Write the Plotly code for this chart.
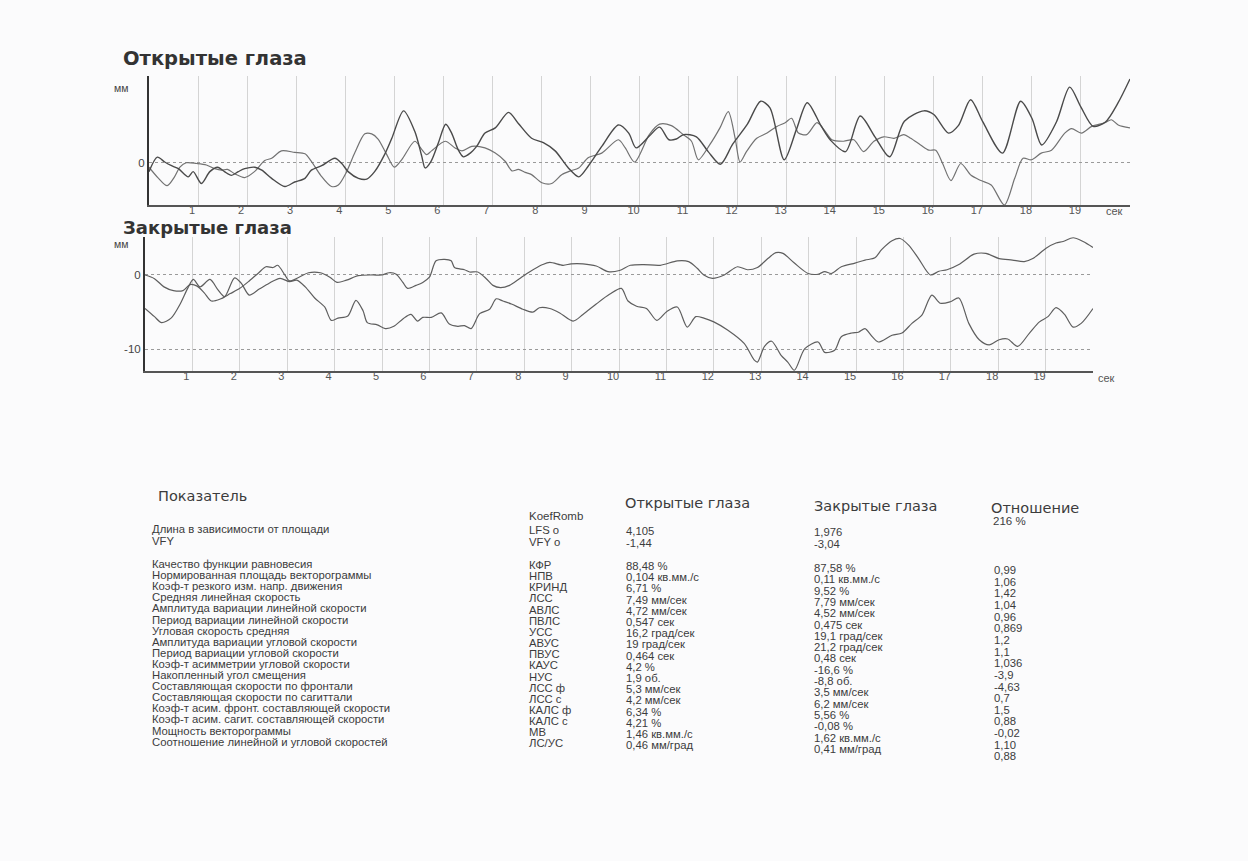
import plotly.graph_objects as go

W, H = 1248, 861

# ---------------- data: "Открытые глаза" (open eyes), mm vs seconds ----------------
open_t1 = [0, 0.17, 0.32, 0.46, 0.6, 0.8, 0.9, 1.07, 1.24, 1.4, 1.54, 1.68, 1.82, 1.95, 2.16, 2.3, 2.5,
           2.77, 2.97, 3.18, 3.31, 3.52, 3.79, 3.93, 4.06, 4.27, 4.44, 4.6, 4.81, 4.95, 5.19, 5.42,
           5.56, 5.63, 5.75, 5.9, 6.05, 6.17, 6.3, 6.41, 6.55, 6.68, 6.85, 7.06, 7.33, 7.53, 7.8,
           8.04, 8.28, 8.55, 8.76, 8.96, 9.23, 9.57, 9.78, 9.93, 10.2, 10.41, 10.6, 10.75, 10.9,
           11.16, 11.4, 11.65, 11.9, 12.2, 12.47, 12.66, 12.95, 13.2, 13.42, 13.7, 13.9, 14.2,
           14.5, 14.8, 15.1, 15.4, 15.8, 16.0, 16.3, 16.5, 16.75, 17.0, 17.4, 17.77, 18.0, 18.2,
           18.5, 18.77, 19.0, 19.25, 19.5, 19.75, 20.0]
open_v1 = [-1.2, 0.75, 0.1, -0.4, -0.8, -1.9, -1.2, -2.8, -1.2, -0.6, -1.2, -1.7, -1.2, -0.8, -0.6, -1.0, -2.1,
           -3.2, -2.6, -2.1, -1.0, -0.4, 0.6, -0.1, -1.2, -2.1, -2.2, -1.2, 1.2, 3.3, 7.0, 4.2,
           0.9, -0.7, 0.2, 2.7, 5.2, 4.0, 1.8, 0.8, 1.3, 2.2, 4.0, 4.7, 6.8, 5.3, 3.3,
           2.7, 1.6, -0.7, -1.9, -0.4, 2.2, 5.1, 4.0, 2.0, 3.6, 4.8, 3.1, 3.2, 3.8,
           3.5, 1.5, -0.2, 2.5, 5.2, 8.3, 7.4, 0.4, 4.5, 8.1, 5.0, 3.0, 1.5,
           6.3, 3.5, 0.8, 5.6, 7.0, 6.5, 4.0, 5.0, 8.5, 5.5, 1.3, 8.3, 6.0, 2.4,
           5.5, 10.2, 7.5, 4.9, 5.5, 8.0, 11.3]

open_t2 = [0, 0.18, 0.37, 0.52, 0.63, 0.76, 0.97, 1.17, 1.34, 1.48, 1.6, 1.75, 1.95, 2.15, 2.36, 2.5, 2.7,
           2.97, 3.18, 3.3, 3.5, 3.72, 3.86, 4.03, 4.2, 4.4, 4.54, 4.67, 4.84, 5.0, 5.15, 5.42,
           5.56, 5.66, 5.76, 6.04, 6.24, 6.38, 6.58, 6.85, 7.06, 7.26, 7.4, 7.53, 7.67, 7.8, 8.01,
           8.21, 8.42, 8.59, 8.76, 8.96, 9.23, 9.57, 9.71, 9.9, 10.2, 10.41, 10.65, 10.89, 11.06,
           11.2, 11.43, 11.64, 11.81, 11.95, 12.05, 12.18, 12.39, 12.6, 12.8, 12.97, 13.1, 13.24,
           13.41, 13.62, 13.79, 13.92, 14.16, 14.37, 14.57, 14.78, 14.98, 15.19, 15.39, 15.53,
           15.73, 15.9, 16.04, 16.18, 16.35, 16.55, 16.76, 16.96, 17.17, 17.44, 17.65, 17.82,
           17.99, 18.19, 18.4, 18.67, 18.81, 19.01, 19.22, 19.49, 19.62, 19.76, 20.0]
open_v2 = [-0.6, -2.0, -3.1, -1.9, -0.6, 0.0, -0.1, -0.3, -0.8, -1.0, -0.9, -1.5, -2.0, -1.2, 0.3, 0.6, 1.6,
           1.4, 1.2, 0.3, -1.7, -3.2, -3.0, -1.2, 1.4, 3.9, 3.9, 3.2, 1.2, -0.6, 0.4, 2.9,
           1.8, 1.1, 1.6, 2.9, 2.0, 1.6, 2.2, 2.0, 1.3, 0.2, -1.1, -0.9, -1.3, -1.6, -2.7,
           -2.8, -1.6, -1.1, -0.7, 0.7, 1.3, 3.1, 2.0, 0.1, 3.8, 5.2, 5.0, 3.8, 2.9,
           0.4, 2.4, 4.7, 6.9, 3.3, 0.1, 1.5, 3.3, 4.0, 4.9, 5.4, 6.0, 4.0,
           3.8, 5.4, 4.2, 3.1, 2.9, 3.1, 1.5, 2.9, 3.5, 3.3, 3.8, 3.3,
           2.4, 1.7, 1.7, -0.1, -2.4, -0.1, -1.7, -2.4, -3.0, -5.7, -2.1, 0.6,
           0.4, 1.3, 1.7, 4.0, 4.6, 4.0, 4.9, 5.4, 5.8, 5.1, 4.7]

# ---------------- data: "Закрытые глаза" (closed eyes) ----------------
closed_t1 = [0, 0.2, 0.4, 0.6, 0.8, 0.95, 1.1, 1.25, 1.4, 1.6, 1.8, 2.0, 2.2, 2.4, 2.55, 2.7, 2.8, 2.95,
             3.05, 3.25, 3.45, 3.7, 3.9, 4.05, 4.25, 4.5, 4.8, 5.0, 5.15, 5.3, 5.44, 5.54, 5.72, 5.86,
             6.0, 6.14, 6.32, 6.46, 6.53, 6.74, 6.85, 7.02, 7.2, 7.34, 7.5, 7.69, 7.9, 8.11, 8.39,
             8.54, 8.82, 8.99, 9.24, 9.52, 9.77, 10.01, 10.24, 10.52, 10.87, 11.23, 11.47, 11.65,
             11.79, 11.97, 12.22, 12.5, 12.71, 12.92, 13.14, 13.31, 13.46, 13.7, 13.99, 14.2, 14.34,
             14.48, 14.69, 14.98, 15.19, 15.4, 15.54, 15.76, 15.93, 16.11, 16.32, 16.57, 16.75,
             16.92, 17.17, 17.49, 17.74, 18.02, 18.3, 18.55, 18.73, 19.01, 19.22, 19.37, 19.58,
             19.79, 20.0]
closed_v1 = [0.0, -0.5, -1.6, -2.1, -2.1, -1.3, -1.5, -2.4, -3.5, -3.2, -2.5, -1.8, -0.8, 0.3, 1.1, 1.0, 1.3, 0.0,
             -0.8, -0.3, 0.3, 0.3, -0.3, -1.0, -0.7, -0.1, 0.0, 0.0, 0.3, 0.1, -1.0, -1.8, -1.4, -1.0,
             -0.3, 1.9, 2.1, 1.9, 1.0, 0.7, 0.4, 0.4, -0.5, -1.4, -1.7, -1.4, -0.5, 0.4, 1.4,
             1.7, 1.3, 1.5, 1.5, 1.2, 0.45, 0.6, 1.3, 1.4, 1.3, 1.9, 1.8, 0.9,
             0.0, -0.45, 0.0, 1.1, 0.7, 1.0, 2.2, 3.0, 2.9, 1.6, 0.2, 0.1, 0.45,
             0.2, 1.1, 1.6, 2.0, 2.3, 3.4, 4.6, 4.9, 4.0, 2.2, 0.0, 0.5,
             0.7, 1.4, 2.8, 2.9, 2.2, 2.0, 1.8, 2.2, 3.6, 4.3, 4.5, 5.0,
             4.5, 3.7]

closed_t2 = [0, 0.2, 0.35, 0.55, 0.75, 0.9, 1.02, 1.16, 1.37, 1.54, 1.68, 1.89, 2.03, 2.2, 2.41, 2.62, 2.85,
             3.05, 3.2, 3.38, 3.58, 3.79, 3.93, 4.07, 4.28, 4.45, 4.6, 4.69, 4.9, 5.07, 5.25, 5.44,
             5.61, 5.75, 5.86, 6.04, 6.25, 6.42, 6.6, 6.74, 6.88, 7.06, 7.27, 7.41, 7.55, 7.73, 7.97,
             8.18, 8.32, 8.54, 8.75, 9.03, 9.24, 9.52, 9.8, 10.05, 10.19, 10.37, 10.58, 10.8, 11.01,
             11.23, 11.44, 11.62, 11.79, 12.0, 12.29, 12.64, 12.85, 12.92, 13.07, 13.22, 13.42,
             13.56, 13.7, 13.92, 14.2, 14.34, 14.55, 14.69, 14.91, 15.05, 15.19, 15.33, 15.47,
             15.76, 15.97, 16.18, 16.39, 16.6, 16.78, 16.99, 17.17, 17.38, 17.6, 17.81, 18.02,
             18.2, 18.41, 18.66, 18.87, 19.05, 19.22, 19.4, 19.58, 19.75, 20.0]
closed_v2 = [-4.5, -5.6, -6.4, -5.8, -3.8, -1.8, -0.6, -1.6, -0.6, -2.0, -2.9, -0.4, -1.1, -2.7, -1.9, -1.1, -0.45,
             -0.9, -0.7, -1.6, -3.1, -4.3, -6.1, -5.8, -5.5, -3.4, -4.8, -6.4, -6.7, -7.2, -6.9, -5.9,
             -5.3, -6.2, -5.7, -5.7, -5.1, -6.6, -6.9, -6.8, -7.2, -5.2, -4.6, -3.2, -3.5, -3.9, -4.6,
             -5.0, -4.4, -4.5, -5.1, -6.2, -5.3, -3.9, -2.6, -1.8, -3.5, -4.2, -4.5, -6.1, -4.9,
             -4.3, -7.0, -5.6, -5.8, -6.3, -7.4, -9.2, -11.4, -11.7, -9.6, -8.9, -10.8,
             -11.7, -12.8, -9.9, -9.0, -10.4, -10.1, -8.3, -7.8, -7.7, -7.2, -8.2, -9.0,
             -8.1, -7.8, -6.5, -5.4, -2.7, -3.8, -3.6, -3.1, -6.5, -8.7, -9.4, -8.7,
             -8.6, -9.6, -7.8, -6.3, -5.6, -4.4, -5.3, -7.0, -6.5, -4.5]

sec_ticks = list(range(1, 21))
sec_labels = [str(i) for i in range(1, 20)] + [""]

# ---------------- table data ----------------
hdr_param = "Показатель"
hdr_open = "Открытые глаза"
hdr_closed = "Закрытые глаза"
hdr_ratio = "Отношение"
hdr_koef = "KoefRomb"
hdr_ratio_val = "216 %"

top_labels = ["Длина в зависимости от площади", "VFY"]
top_codes = ["LFS o", "VFY o"]
top_open = ["4,105", "-1,44"]
top_closed = ["1,976", "-3,04"]

row_labels = [
    "Качество функции равновесия",
    "Нормированная площадь векторограммы",
    "Коэф-т резкого изм. напр. движения",
    "Средняя линейная скорость",
    "Амплитуда вариации линейной скорости",
    "Период вариации линейной скорости",
    "Угловая скорость средняя",
    "Амплитуда вариации угловой скорости",
    "Период вариации угловой скорости",
    "Коэф-т асимметрии угловой скорости",
    "Накопленный угол смещения",
    "Составляющая скорости по фронтали",
    "Составляющая скорости по сагиттали",
    "Коэф-т асим. фронт. составляющей скорости",
    "Коэф-т асим. сагит. составляющей скорости",
    "Мощность векторограммы",
    "Соотношение линейной и угловой скоростей",
]
row_codes = ["КФР", "НПВ", "КРИНД", "ЛСС", "АВЛС", "ПВЛС", "УСС", "АВУС", "ПВУС", "КАУС", "НУС",
             "ЛСС ф", "ЛСС с", "КАЛС ф", "КАЛС с", "МВ", "ЛС/УС"]
row_open = ["88,48 %", "0,104 кв.мм./с", "6,71 %", "7,49 мм/сек", "4,72 мм/сек", "0,547 сек",
            "16,2 град/сек", "19 град/сек", "0,464 сек", "4,2 %", "1,9 об.", "5,3 мм/сек",
            "4,2 мм/сек", "6,34 %", "4,21 %", "1,46 кв.мм./с", "0,46 мм/град"]
row_closed = ["87,58 %", "0,11 кв.мм./с", "9,52 %", "7,79 мм/сек", "4,52 мм/сек", "0,475 сек",
              "19,1 град/сек", "21,2 град/сек", "0,48 сек", "-16,6 %", "-8,8 об.", "3,5 мм/сек",
              "6,2 мм/сек", "5,56 %", "-0,08 %", "1,62 кв.мм./с", "0,41 мм/град"]
row_ratio = ["0,99", "1,06", "1,42", "1,04", "0,96", "0,869", "1,2", "1,1", "1,036", "-3,9", "-4,63",
             "0,7", "1,5", "0,88", "-0,02", "1,10", "0,88"]

# ---------------- figure ----------------
BG = "#fbfbfc"
TXT = "#3c3c3c"
FONT = "Liberation Sans, Arial, sans-serif"
WIDE = "DejaVu Sans, sans-serif"


def px(x):
    return x / W


def py(y):
    return 1 - y / H


fig = go.Figure()
fig.add_trace(go.Scatter(x=open_t2, y=open_v2, mode="lines", xaxis="x", yaxis="y",
                         line=dict(color="#727272", width=1.2, shape="spline", smoothing=0.8),
                         hoverinfo="skip", showlegend=False))
fig.add_trace(go.Scatter(x=open_t1, y=open_v1, mode="lines", xaxis="x", yaxis="y",
                         line=dict(color="#4a4a4a", width=1.4, shape="spline", smoothing=0.8),
                         hoverinfo="skip", showlegend=False))
fig.add_trace(go.Scatter(x=closed_t1, y=closed_v1, mode="lines", xaxis="x2", yaxis="y2",
                         line=dict(color="#5e5e5e", width=1.2, shape="spline", smoothing=0.8),
                         hoverinfo="skip", showlegend=False))
fig.add_trace(go.Scatter(x=closed_t2, y=closed_v2, mode="lines", xaxis="x2", yaxis="y2",
                         line=dict(color="#5e5e5e", width=1.2, shape="spline", smoothing=0.8),
                         hoverinfo="skip", showlegend=False))

xcommon = dict(range=[0, 20], tickmode="array", tickvals=sec_ticks, ticktext=sec_labels,
               showgrid=True, gridcolor="#d4d4d4", gridwidth=1, zeroline=False,
               showline=True, linecolor="#555555", linewidth=1.6, ticks="", ticklabelshift=-6,
               ticklabelstandoff=-6,
               tickfont=dict(family=FONT, size=11, color="#555555"), fixedrange=True)
ycommon = dict(showgrid=True, gridcolor="#9a9a9a", griddash="dot", gridwidth=1, zeroline=False,
               showline=True, linecolor="#333333", linewidth=2, ticks="",
               tickfont=dict(family=FONT, size=11.5, color="#444444"), fixedrange=True)

fig.update_layout(
    width=W, height=H,
    margin=dict(l=0, r=0, t=0, b=0),
    paper_bgcolor=BG, plot_bgcolor=BG,
    showlegend=False,
    xaxis=dict(domain=[px(149), px(1130)], anchor="y", **xcommon),
    yaxis=dict(domain=[py(205), py(76)], anchor="x", range=[-5.7, 11.7],
               tickmode="array", tickvals=[0], ticktext=["0"], **ycommon),
    xaxis2=dict(domain=[px(145), px(1093)], anchor="y2", **xcommon),
    yaxis2=dict(domain=[py(371), py(237)], anchor="x2", range=[-12.9, 5.1],
                tickmode="array", tickvals=[0, -10], ticktext=["0", "-10"], **ycommon),
)

ann = []


def add_text(text, x, y, size=12, color=TXT, family=FONT, xanchor="left"):
    ann.append(dict(text=text, x=px(x), y=py(y), xref="paper", yref="paper",
                    xanchor=xanchor, yanchor="middle", showarrow=False,
                    font=dict(family=family, size=size, color=color)))


# chart titles and axis captions
add_text("<b>Открытые глаза</b>", 121, 58, size=19.5, color="#333333", family=WIDE)
add_text("<b>Закрытые глаза</b>", 121, 227, size=18, color="#333333", family=WIDE)
add_text("мм", 112, 88, size=10.5, color="#444444")
add_text("мм", 112, 244, size=10.5, color="#444444")
add_text("сек", 1114, 211, size=11, color="#555555", xanchor="center")
add_text("сек", 1106, 378, size=11, color="#555555", xanchor="center")

# table headers
HF = 14.5
add_text(hdr_param, 156, 496, size=HF, family=WIDE)
add_text(hdr_open, 623, 503, size=HF, family=WIDE)
add_text(hdr_closed, 812, 506, size=HF, family=WIDE)
add_text(hdr_ratio, 989, 508, size=HF, family=WIDE)
add_text(hdr_koef, 527, 516, size=11.5)
add_text(hdr_ratio_val, 991, 521, size=11.5)

# column x positions, and the small drift/stretch of the scanned page per column
col_x = [150, 527, 624, 812, 992]
col_y0 = [564, 565, 566, 568, 570]
col_step = [11.1, 11.15, 11.2, 11.3, 11.65]
top_y0 = [529, 530, 531, 532]
RF = 11.3

for i in range(len(top_labels)):
    vals = [top_labels[i], top_codes[i], top_open[i], top_closed[i]]
    for c, v in enumerate(vals):
        add_text(v, col_x[c], top_y0[c] + i * 12, size=RF)

for i in range(len(row_labels)):
    vals = [row_labels[i], row_codes[i], row_open[i], row_closed[i], row_ratio[i]]
    for c, v in enumerate(vals):
        add_text(v, col_x[c], col_y0[c] + i * col_step[c], size=RF)

fig.update_layout(annotations=ann)

fig.write_html("out.html")
